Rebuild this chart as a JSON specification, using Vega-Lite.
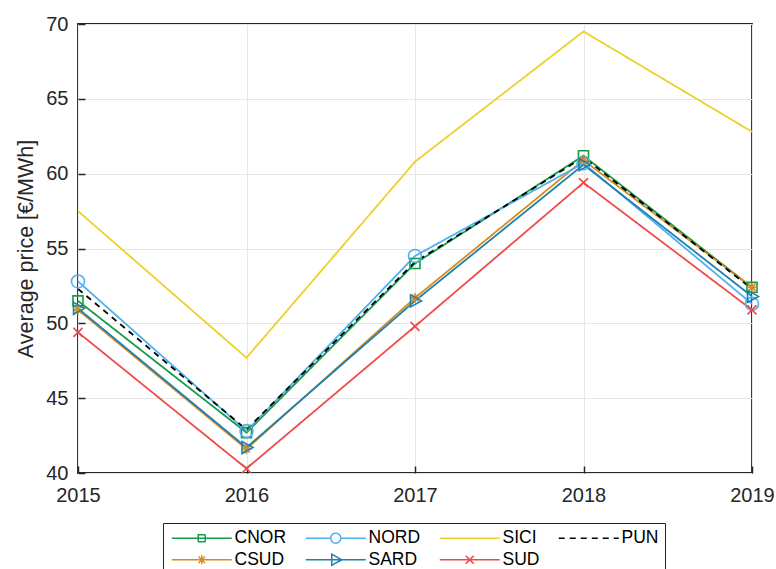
{
  "$schema": "https://vega.github.io/schema/vega-lite/v6.json",
  "width": 674,
  "height": 449,
  "autosize": {"type": "none"},
  "padding": {"left": 78, "top": 24, "right": 24, "bottom": 96},
  "background": "white",
  "config": {
    "font": "Liberation Sans",
    "view": {"stroke": "#262626", "strokeWidth": 1.8},
    "axis": {
      "domain": false,
      "grid": true,
      "gridColor": "#e6e6e6",
      "gridWidth": 1,
      "ticks": true,
      "tickSize": -7,
      "tickColor": "#262626",
      "tickWidth": 1.5,
      "labelFont": "Liberation Sans",
      "labelFontSize": 20,
      "labelColor": "#262626",
      "titleFont": "Liberation Sans",
      "titleFontSize": 21.5,
      "titleFontWeight": "normal",
      "titleColor": "#262626"
    },
    "legend": {
      "strokeColor": "#262626",
      "fillColor": "white",
      "padding": 6
    }
  },
  "data": {
    "values": [
      {"year": 2015, "region": "CNOR", "price": 51.5},
      {"year": 2016, "region": "CNOR", "price": 42.7},
      {"year": 2017, "region": "CNOR", "price": 54.0},
      {"year": 2018, "region": "CNOR", "price": 61.2},
      {"year": 2019, "region": "CNOR", "price": 52.4},
      {"year": 2015, "region": "CSUD", "price": 50.9},
      {"year": 2016, "region": "CSUD", "price": 41.6},
      {"year": 2017, "region": "CSUD", "price": 51.7},
      {"year": 2018, "region": "CSUD", "price": 60.9},
      {"year": 2019, "region": "CSUD", "price": 52.4},
      {"year": 2015, "region": "NORD", "price": 52.8},
      {"year": 2016, "region": "NORD", "price": 42.8},
      {"year": 2017, "region": "NORD", "price": 54.5},
      {"year": 2018, "region": "NORD", "price": 60.7},
      {"year": 2019, "region": "NORD", "price": 51.3},
      {"year": 2015, "region": "SARD", "price": 51.0},
      {"year": 2016, "region": "SARD", "price": 41.7},
      {"year": 2017, "region": "SARD", "price": 51.5},
      {"year": 2018, "region": "SARD", "price": 60.6},
      {"year": 2019, "region": "SARD", "price": 51.8},
      {"year": 2015, "region": "SICI", "price": 57.5},
      {"year": 2016, "region": "SICI", "price": 47.7},
      {"year": 2017, "region": "SICI", "price": 60.8},
      {"year": 2018, "region": "SICI", "price": 69.5},
      {"year": 2019, "region": "SICI", "price": 62.8},
      {"year": 2015, "region": "SUD", "price": 49.4},
      {"year": 2016, "region": "SUD", "price": 40.3},
      {"year": 2017, "region": "SUD", "price": 49.8},
      {"year": 2018, "region": "SUD", "price": 59.4},
      {"year": 2019, "region": "SUD", "price": 50.9},
      {"year": 2015, "region": "PUN", "price": 52.3},
      {"year": 2016, "region": "PUN", "price": 42.9},
      {"year": 2017, "region": "PUN", "price": 54.1},
      {"year": 2018, "region": "PUN", "price": 61.1},
      {"year": 2019, "region": "PUN", "price": 52.3}
    ]
  },
  "encoding": {
    "x": {
      "field": "year",
      "type": "quantitative",
      "scale": {"domain": [2015, 2019], "nice": false, "zero": false},
      "axis": {
        "title": null,
        "values": [2015, 2016, 2017, 2018, 2019],
        "format": "d",
        "labelFlush": false,
        "labelPadding": 19.5
      }
    },
    "y": {
      "field": "price",
      "type": "quantitative",
      "scale": {"domain": [40, 70], "nice": false, "zero": false},
      "axis": {
        "title": "Average price [€/MWh]",
        "values": [40, 45, 50, 55, 60, 65, 70],
        "labelPadding": 17,
        "titlePadding": 8
      }
    },
    "color": {
      "field": "region",
      "type": "nominal",
      "scale": {
        "domain": ["CNOR", "NORD", "SICI", "PUN", "CSUD", "SARD", "SUD"],
        "range": ["#139b48", "#4fb0f0", "#ebd22a", "#000000", "#d98b1c", "#1b82b0", "#f04a4a"]
      },
      "legend": {
        "title": null,
        "orient": "none",
        "legendX": 85,
        "legendY": 499,
        "direction": "horizontal",
        "columns": 4,
        "symbolSize": 100,
        "symbolStrokeWidth": 1.5,
        "symbolFillColor": "transparent",
        "labelOffset": 48,
        "labelFontSize": 17.5,
        "labelFont": "Liberation Sans",
        "labelColor": "#000000",
        "columnPadding": 15,
        "rowPadding": 3,
        "padding": 6,
        "strokeColor": "#262626",
        "fillColor": "white",
        "encode": {
          "symbols": {
            "update": {
              "shape": {"signal": "datum.value === 'CNOR' ? 'M-1.2,0H10.8M4.1,-0.7H5.5V0.7H4.1Z' : datum.value === 'NORD' ? 'M-1.2,0H3.8M5.8,0H10.8M5.8,0A1,1,0,1,1,3.8,0A1,1,0,1,1,5.8,0' : datum.value === 'CSUD' ? 'M-1.2,0H10.8M4.8,-0.9V0.9M4.16,-0.64L5.44,0.64M4.16,0.64L5.44,-0.64' : datum.value === 'SARD' ? 'M-1.2,0H10.8M4,-1.1L6,0L4,1.1Z' : datum.value === 'SUD' ? 'M-1.2,0H10.8M4,-0.8L5.6,0.8M4,0.8L5.6,-0.8' : 'M-1.2,0H10.8'"},
              "fill": {"value": "transparent"},
              "strokeWidth": {"value": 1.5},
              "opacity": {"value": 1}
            }
          }
        }
      }
    }
  },
  "layer": [
    {
      "mark": {"type": "line", "strokeWidth": 1.8},
      "encoding": {
        "strokeDash": {
          "field": "region",
          "type": "nominal",
          "scale": {
            "domain": ["CNOR", "NORD", "SICI", "PUN", "CSUD", "SARD", "SUD"],
            "range": [[1, 0], [1, 0], [1, 0], [6, 5], [1, 0], [1, 0], [1, 0]]
          }
        }
      }
    },
    {
      "transform": [{"filter": {"field": "region", "equal": "CNOR"}}],
      "mark": {"type": "point", "filled": false, "size": 100, "strokeWidth": 1.6, "opacity": 1, "shape": "M-1,-1H1V1H-1Z"}
    },
    {
      "transform": [{"filter": {"field": "region", "equal": "NORD"}}],
      "mark": {"type": "point", "filled": false, "size": 100, "strokeWidth": 1.6, "opacity": 1, "shape": "M1.3,0A1.3,1.3,0,1,1,-1.3,0A1.3,1.3,0,1,1,1.3,0"}
    },
    {
      "transform": [{"filter": {"field": "region", "equal": "CSUD"}}],
      "mark": {"type": "point", "filled": false, "size": 100, "strokeWidth": 1.6, "opacity": 1, "shape": "M-1,0H1M0,-1V1M-0.7,-0.7L0.7,0.7M-0.7,0.7L0.7,-0.7"}
    },
    {
      "transform": [{"filter": {"field": "region", "equal": "SARD"}}],
      "mark": {"type": "point", "filled": false, "size": 100, "strokeWidth": 1.6, "opacity": 1, "shape": "M-0.9,-1.2L1.3,0L-0.9,1.2Z"}
    },
    {
      "transform": [{"filter": {"field": "region", "equal": "SUD"}}],
      "mark": {"type": "point", "filled": false, "size": 100, "strokeWidth": 1.6, "opacity": 1, "shape": "M-0.9,-0.9L0.9,0.9M-0.9,0.9L0.9,-0.9"}
    }
  ]
}
